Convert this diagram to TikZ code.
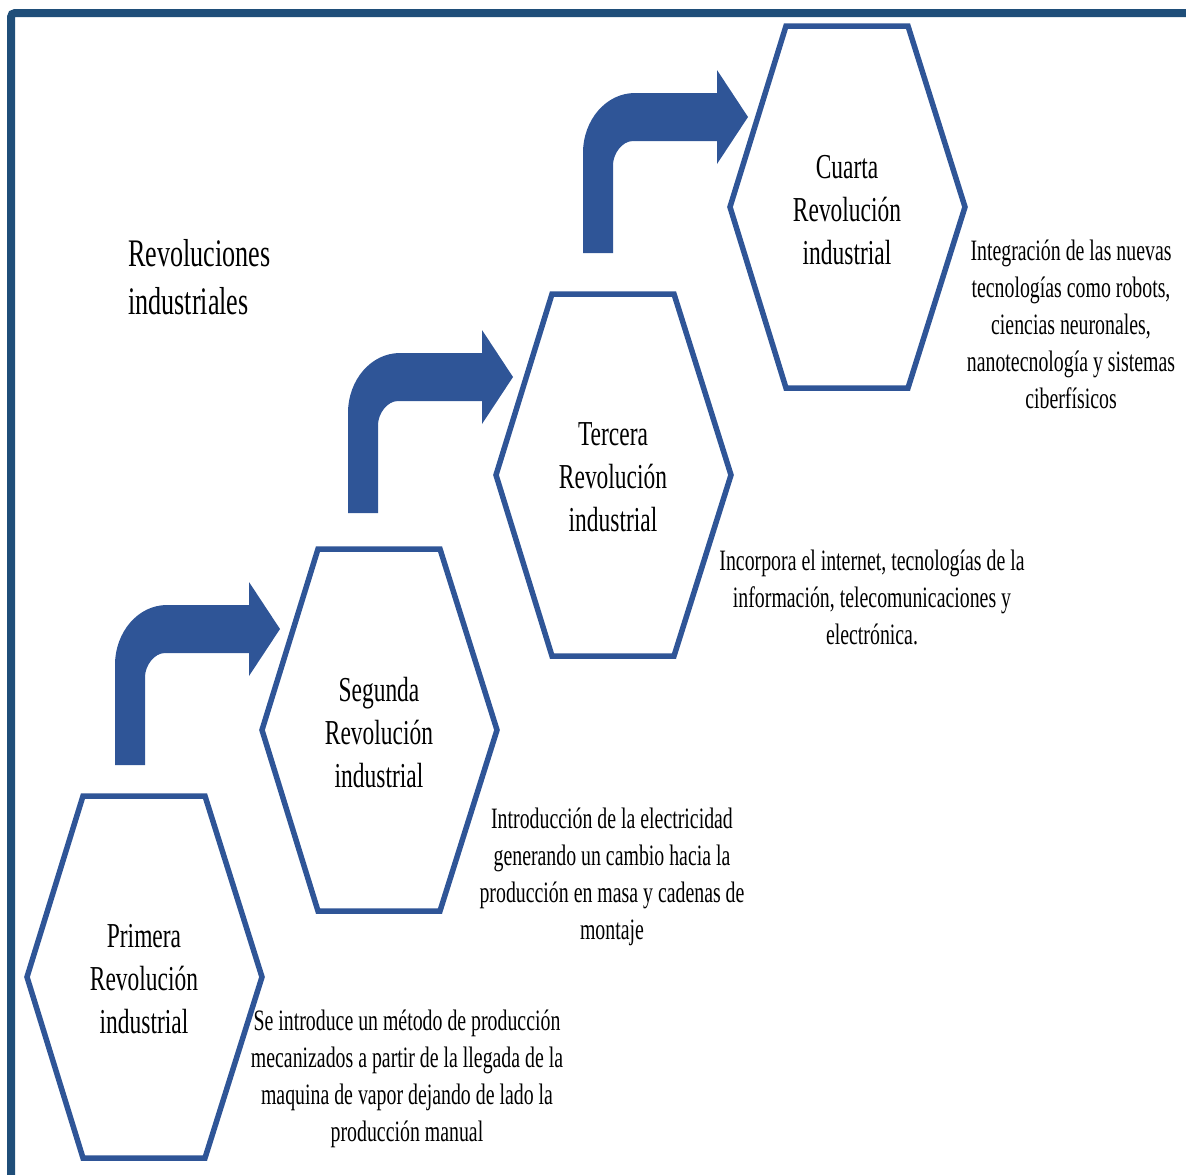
\documentclass[tikz,border=0pt]{standalone}
\usepackage{fontspec}
\setmainfont{Liberation Serif}[FakeStretch=0.67]
\begin{document}
\begin{tikzpicture}[x=0.75pt,y=-0.75pt,
  frameblue/.style={draw=framecol,line width=8*0.75pt},
  hexline/.style={draw=hexcol,line width=5.5*0.75pt,line join=miter},
  hextext/.style={align=center,inner sep=0pt,font=\fontsize{26.25}{32.25}\selectfont},
  desctext/.style={align=center,inner sep=0pt,font=\fontsize{22.2}{27.75}\selectfont},
  titletext/.style={align=left,inner sep=0pt,anchor=base west,font=\fontsize{29.25}{36}\selectfont},
  pics/hexagon/.style={code={
    \draw[hexline] (-61,-181) -- (61,-181) -- (118,0) -- (61,181) -- (-61,181) -- (-117,0) -- cycle;
  }},
  pics/bentarrow/.style={code={
    \fill[hexcol] (0,0) -- (0,-100)
      .. controls (0,-133) and (23,-160) .. (52,-160)
      -- (134,-160) -- (134,-183) -- (165,-136) -- (134,-89) -- (134,-112)
      -- (50,-112)
      .. controls (39,-112) and (30,-99) .. (30,-88)
      -- (30,0) -- cycle;
  }}]
\definecolor{framecol}{HTML}{1F4E79}
\definecolor{hexcol}{HTML}{2F5597}

\useasboundingbox (0,0) rectangle (1186,1175);
\begin{scope}
\clip (0,0) rectangle (1186,1175);
\draw[frameblue,rounded corners=4*0.75pt] (11,13) rectangle (1230,1220);
\end{scope}

% the four stages
\pic at (144,977) {hexagon};
\pic at (379,730) {hexagon};
\pic at (613,475) {hexagon};
\pic at (847,207) {hexagon};

% bent arrows leading from one stage to the next
\pic at (115,765) {bentarrow};
\pic at (348,513) {bentarrow};
\pic at (583,253) {bentarrow};

% title (anchored on the baseline of its last line)
\node[titletext] (title) at (128,314) {Revoluciones\\industriales};

% stage names
\node[hextext] (h1) at (144,979) {Primera\\Revolución\\industrial};
\node[hextext] (h2) at (379,733) {Segunda\\Revolución\\industrial};
\node[hextext] (h3) at (613,477) {Tercera\\Revolución\\industrial};
\node[hextext] (h4) at (847,210) {Cuarta\\Revolución\\industrial};

% descriptions
\node[desctext] (d1) at (407,1079) {Se introduce un método de producción\\mecanizados a partir de la llegada de la\\maquina de vapor dejando de lado la\\producción manual};
\node[desctext] (d2) at (612,877) {Introducción de la electricidad\\generando un cambio hacia la\\producción en masa y cadenas de\\montaje};
\node[desctext] (d3) at (872,597) {Incorpora el internet, tecnologías de la\\información, telecomunicaciones y\\electrónica.};
\node[desctext] (d4) at (1071,324) {Integración de las nuevas\\tecnologías como robots,\\ciencias neuronales,\\nanotecnología y sistemas\\ciberfísicos};
\end{tikzpicture}
\end{document}
